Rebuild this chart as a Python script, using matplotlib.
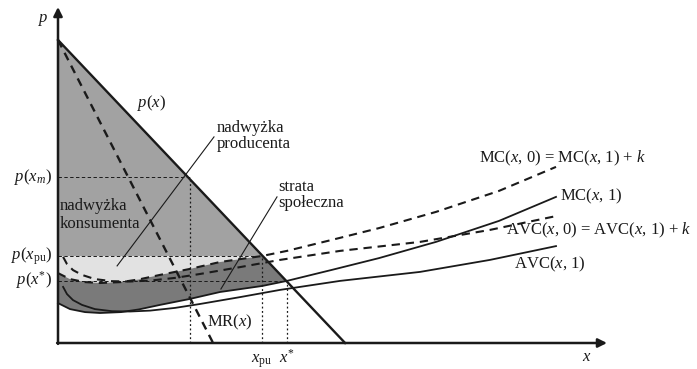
import matplotlib
matplotlib.use("Agg")
import matplotlib.pyplot as plt

# =====================================================
# Style
# =====================================================
plt.rcParams["font.family"] = ["Liberation Serif", "DejaVu Serif"]
plt.rcParams["mathtext.fontset"] = "custom"
plt.rcParams["mathtext.rm"] = "Liberation Serif"
plt.rcParams["mathtext.it"] = "Liberation Serif:italic"

FS = 12
INK = "#1a1a1a"
MID_GRAY = "#a2a2a2"     # nadwyzka konsumenta
LIGHT_GRAY = "#e2e2e2"   # nadwyzka producenta
DARK_GRAY = "#7a7a7a"    # strata spoleczna

# =====================================================
# Data
# =====================================================
demand_x = [0.0, 9.57]
demand_p = [10.1, 0.0]

mr_x = [0.0, 5.17]
mr_p = [10.1, 0.0]

x_m, p_m = 4.4, 5.52
x_pu, p_pu = 6.8, 2.9
x_star, p_star = 7.63, 2.07

k = 1.0   # MC(x,0) = MC(x,1) + k, AVC(x,0) = AVC(x,1) + k

mc1_x = [0.0, 0.4, 0.9, 1.4, 2.1, 2.7, 3.4, 4.4, 5.4, 6.8, 7.63, 9.1, 10.7, 12.6, 14.7, 16.6]
mc1_y = [1.33, 1.13, 1.03, 1.0, 1.03, 1.12, 1.27, 1.47, 1.7, 1.9, 2.07, 2.43, 2.83, 3.37, 4.07, 4.87]

avc1_x = [0.17, 0.3, 0.5, 0.8, 1.23, 1.8, 2.4, 3.07, 3.9, 4.73, 6.07, 7.4, 9.4, 12.07, 14.4, 16.6]
avc1_y = [1.87, 1.63, 1.43, 1.27, 1.13, 1.06, 1.05, 1.08, 1.17, 1.3, 1.53, 1.77, 2.07, 2.37, 2.77, 3.23]

mc0_y = [v + k for v in mc1_y]
avc0_y = [v + k for v in avc1_y]

fig = plt.figure(figsize=(6.97, 3.69), dpi=100)
ax = fig.add_axes([0, 0, 1, 1])
ax.set_xlim(-58 / 30, (697 - 58) / 30)
ax.set_ylim((343 - 369) / 30, 343 / 30)
ax.axis("off")

# =====================================================
# Shaded areas
# =====================================================
i_pu = mc1_x.index(x_pu)
i_st = mc1_x.index(x_star)

ax.fill([0, x_pu, 0], [demand_p[0], p_pu, p_pu], color=MID_GRAY, lw=0, zorder=1)

band_x = [0, x_pu] + mc1_x[i_pu::-1]
band_y = [p_pu, p_pu] + mc0_y[i_pu::-1]
ax.fill(band_x, band_y, color=LIGHT_GRAY, lw=0, zorder=1)

dark_x = mc1_x[:i_st + 1] + [x_pu] + mc1_x[i_pu::-1]
dark_y = mc1_y[:i_st + 1] + [p_pu] + mc0_y[i_pu::-1]
ax.fill(dark_x, dark_y, color=DARK_GRAY, lw=0, zorder=1)

# =====================================================
# Guide lines
# =====================================================
guide = dict(color=INK, lw=0.7, dashes=(3.5, 2.5), zorder=2)
for gx, gp in [(x_m, p_m), (x_pu, p_pu), (x_star, p_star)]:
    ax.plot([0, gx], [gp, gp], **guide)
    ax.plot([gx, gx], [0, gp], color=INK, lw=0.9, dashes=(1.5, 2), zorder=2)

# =====================================================
# Curves
# =====================================================
ax.plot(demand_x, demand_p, color=INK, lw=1.7, zorder=4)
ax.plot(mr_x, mr_p, color=INK, lw=1.7, dashes=(3.5, 2.6), zorder=4)
ax.plot(mc1_x, mc1_y, color=INK, lw=1.3, zorder=3)
ax.plot(avc1_x, avc1_y, color=INK, lw=1.3, zorder=3)
ax.plot(mc1_x, mc0_y, color=INK, lw=1.5, dashes=(4, 2.8), zorder=3)
ax.plot(avc1_x, avc0_y, color=INK, lw=1.5, dashes=(4, 2.8), zorder=3)

# axes with arrows
arrow = dict(arrowstyle="-|>", lw=1.8, color=INK, mutation_scale=13,
             shrinkA=0, shrinkB=0)
ax.annotate("", xy=(0, 11.2), xytext=(0, -0.03), arrowprops=arrow, zorder=5)
ax.annotate("", xy=(18.3, 0), xytext=(-0.03, 0), arrowprops=arrow, zorder=5)

# pointer lines
ax.plot([1.97, 5.2], [2.57, 6.87], color=INK, lw=0.8, zorder=5)
ax.plot([5.43, 7.3], [1.8, 4.87], color=INK, lw=0.8, zorder=5)

# =====================================================
# Text
# =====================================================
t = dict(fontsize=FS, color=INK, zorder=6)
ax.text(-0.5, 10.75, "$p$", ha="center", va="center", **t)
ax.text(3.13, 8.0, "$p(x)$", ha="center", va="center", **t)
ax.text(-0.2, p_m, "$p(x_{m})$", ha="right", va="center", **t)
ax.text(-0.2, p_pu, r"$p(x_{\mathrm{pu}})$", ha="right", va="center", **t)
ax.text(-0.2, p_star + 0.03, "$p(x^{*})$", ha="right", va="center", **t)

ax.text(5.3, 7.05, "nadwyżka", ha="left", va="baseline", **t)
ax.text(5.3, 6.5, "producenta", ha="left", va="baseline", **t)
ax.text(7.33, 5.07, "strata", ha="left", va="baseline", **t)
ax.text(7.33, 4.54, "społeczna", ha="left", va="baseline", **t)
ax.text(0.07, 4.42, "nadwyżka", ha="left", va="baseline", **t)
ax.text(0.07, 3.84, "konsumenta", ha="left", va="baseline", **t)
ax.text(4.97, 0.57, "MR($x$)", ha="left", va="baseline", **t)

ax.text(x_pu, -0.66, r"$x_{\mathrm{pu}}$", ha="center", va="baseline", **t)
ax.text(x_star, -0.66, "$x^{*}$", ha="center", va="baseline", **t)
ax.text(17.63, -0.47, "$x$", ha="center", va="center", **t)

ax.text(14.05, 6.03, "MC($x$, 0) = MC($x$, 1) + $k$", ha="left", va="baseline", **t)
ax.text(16.73, 4.77, "MC($x$, 1)", ha="left", va="baseline", **t)
ax.text(14.95, 3.63, "AVC($x$, 0) = AVC($x$, 1) + $k$", ha="left", va="baseline", **t)
ax.text(15.2, 2.5, "AVC($x$, 1)", ha="left", va="baseline", **t)

fig.savefig("out.png", dpi=100, facecolor="white")
